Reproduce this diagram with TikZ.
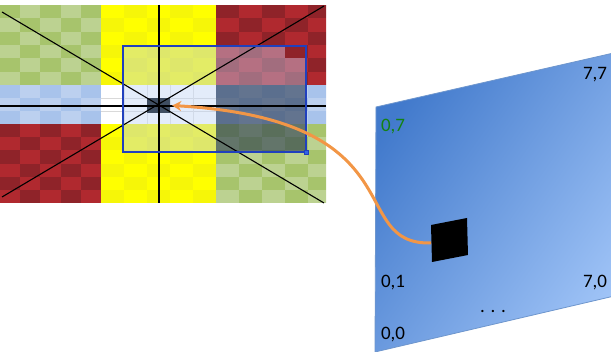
\documentclass[tikz,border=0pt]{standalone}
\usepackage{fontspec}
\setmainfont{Carlito}
\usetikzlibrary{arrows.meta}
\definecolor{gA}{RGB}{167,196,108}
\definecolor{gB}{RGB}{188,210,145}
\definecolor{rA}{RGB}{143,35,41}
\definecolor{rB}{RGB}{176,41,47}
\definecolor{yA}{RGB}{255,255,0}
\definecolor{yB}{RGB}{246,246,8}
\definecolor{bA}{RGB}{168,195,235}
\definecolor{bB}{RGB}{188,208,239}
\definecolor{tintL}{RGB}{190,212,245}
\definecolor{tintD}{RGB}{40,55,80}
\definecolor{rectblue}{RGB}{32,64,190}
\definecolor{handleblue}{RGB}{50,100,230}
\definecolor{tgtcol}{RGB}{63,78,98}
\definecolor{orng}{RGB}{242,150,70}
\definecolor{planeA}{RGB}{66,122,204}
\definecolor{planeB}{RGB}{160,196,247}
\definecolor{planeEdge}{RGB}{110,150,205}
\definecolor{lblgreen}{RGB}{20,130,20}
\newcommand\ckrboard[8]{%
  \foreach \ci in {0,...,#3}{\foreach \cj in {0,...,#4}{%
    \pgfmathtruncatemacro\cpar{mod(\ci+\cj,2)}%
    \ifnum\cpar=0 \def\ccol{#7}\else\def\ccol{#8}\fi
    \fill[\ccol] ({#1+\ci*#5},{#2+\cj*#6}) rectangle ++(#5,#6);}}}
\tikzset{
  lbl/.style={font=\fontsize{19}{22}\selectfont, anchor=base, inner sep=0pt},
  crossline/.style={black, line width=1.1pt},
  arr/.style={draw=orng, line width=3pt, -{Stealth[length=9pt,width=10pt]}}
}
\begin{document}
\begin{tikzpicture}[x=1pt,y=-1pt]
\useasboundingbox (0,0) rectangle (611,352);
% ---- left picture
\begin{scope}
\clip (0,5) rectangle (326,203);
\ckrboard{0}{5}{4}{5}{20.2}{13.33}{gA}{gB}
\ckrboard{101}{5}{4}{5}{23}{13.33}{yA}{yB}
\ckrboard{216}{5}{4}{5}{23}{13.33}{rA}{rB}
\ckrboard{0}{85}{4}{2}{20.2}{13}{bA}{bB}
\fill[white] (101,85) rectangle (216,124);
\ckrboard{216}{85}{4}{2}{23}{13}{bA}{bB}
\ckrboard{0}{124}{4}{5}{20.2}{13.2}{rA}{rB}
\ckrboard{101}{124}{4}{5}{23}{13.2}{yA}{yB}
\ckrboard{216}{124}{4}{5}{23}{13.2}{gA}{gB}
\draw[black!15, line width=0.6pt] (101,98) -- (216,98) (101,111) -- (216,111);
\foreach \gx in {124,147,170,193} \draw[black!12, line width=0.6pt] (\gx,85) -- (\gx,124);
\end{scope}
% overlays in the selection rectangle
\fill[tintL, opacity=0.42] (123,46) rectangle (216,152);
\fill[tintL, opacity=0.42] (216,58) rectangle (306,85);
\fill[tintL, opacity=0.42] (216,46) rectangle (285,58);
\fill[tintD, opacity=0.6] (216,85) rectangle (306,152);
\node[fill=tgtcol, minimum width=23pt, minimum height=15pt, inner sep=0pt] (tgt) at (158.5,105.5) {};
% cross lines
\coordinate (tl) at (2,12);
\coordinate (br) at (324,203);
\coordinate (bl) at (2,197);
\coordinate (tr) at (324,6);
\coordinate (vt) at (159,5);
\coordinate (vb) at (159,203);
\coordinate (hl) at (0,106);
\coordinate (hr) at (326,106);
\draw[crossline] (tl) -- (br);
\draw[crossline] (bl) -- (tr);
\draw[crossline] (vt) -- (vb);
\draw[crossline] (hl) -- (hr);
% selection rectangle
\node[draw=rectblue, line width=1.2pt, minimum width=183pt, minimum height=106pt, inner sep=0pt] (sel) at (214.5,99) {};
\node[fill=handleblue, draw=rectblue, line width=0.4pt, minimum size=4pt, inner sep=0pt] (handle) at (sel.south east) {};
% ---- right plane
\coordinate (pTL) at (376,107);
\coordinate (pTR) at (640,47);
\coordinate (pBR) at (640,290);
\coordinate (pBL) at (375,352);
\begin{scope}
\clip (0,0) rectangle (611,352);
\shade[left color=planeA, right color=planeB, shading angle=55] (pTL) -- (pTR) -- (pBR) -- (pBL) -- cycle;
\draw[planeEdge, line width=0.8pt] (pTL) -- (pTR) -- (pBR) -- (pBL) -- cycle;
\end{scope}
\coordinate (sq1) at (431,225);
\coordinate (sq2) at (467,218);
\coordinate (sq3) at (468,255);
\coordinate (sq4) at (432,262);
\fill[black] (sq1) -- (sq2) -- (sq3) -- (sq4) -- cycle;
\coordinate (sqw) at (431,243);
\node[lbl, text=lblgreen] (l07) at (393,132) {0,7};
\node[lbl] (l77) at (595,80) {7,7};
\node[lbl] (l01) at (393,288) {0,1};
\node[lbl] (l70) at (595,288) {7,0};
\node[lbl] (l00) at (393,340) {0,0};
\node[lbl] (ldots) at (493,313) {. . .};
% ---- arrow
\draw[arr] (sqw) .. controls (345,245) and (420,120) .. ([xshift=2pt]tgt.east);
\end{tikzpicture}
\end{document}
